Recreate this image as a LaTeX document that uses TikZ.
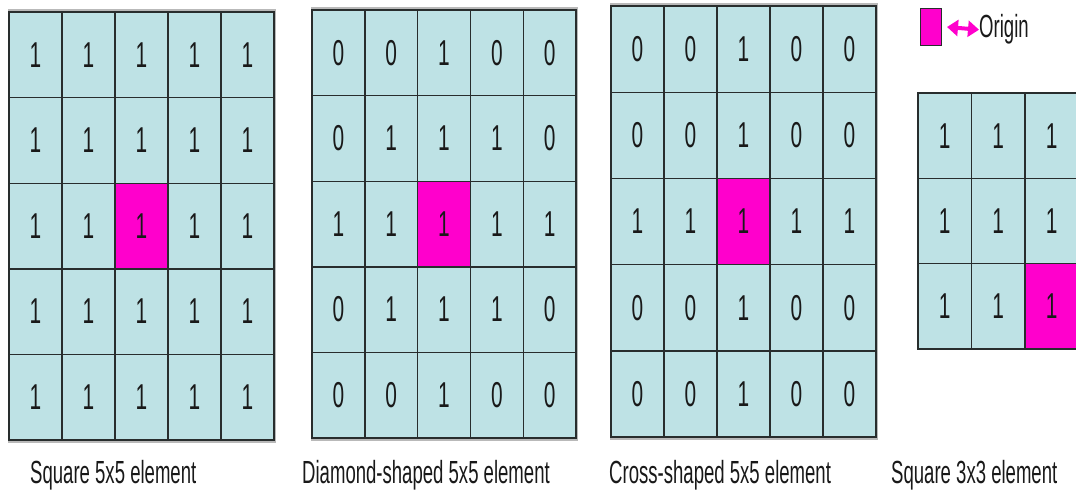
\documentclass[tikz,border=0pt]{standalone}
\usepackage{fontspec}
\setmainfont{Liberation Sans}
\usetikzlibrary{arrows.meta}
\definecolor{cellfill}{RGB}{190,226,229}
\definecolor{originfill}{RGB}{255,0,204}
\definecolor{gridline}{RGB}{40,45,45}
\definecolor{txt}{RGB}{25,25,25}

% one structuring element: name, left, top, cell width, cell height,
% origin row, origin column, rows of values
\newcommand\kgrid[8]{%
  \draw[gray!55, line width=3pt] (#2,#3-1) rectangle ({#2+5*#4},{#3+5*#5+1});
  \foreach \row [count=\r from 0] in {#8} {
    \foreach \v [count=\c from 0] in \row {
      \pgfmathtruncatemacro\isorig{and(\r==#6,\c==#7)}
      \ifnum\isorig=1
        \node[origincell, minimum width=#4, minimum height=#5] (#1-\r-\c)
          at ({#2+#4*(\c+0.5)},{#3+#5*(\r+0.5)}) {\digit{\v}};
      \else
        \node[cell, minimum width=#4, minimum height=#5] (#1-\r-\c)
          at ({#2+#4*(\c+0.5)},{#3+#5*(\r+0.5)}) {\digit{\v}};
      \fi
    }
  }
}
\newcommand\digit[1]{\scalebox{0.58}[1]{#1}}
\newcommand\narrow[1]{\scalebox{0.58}[1]{#1}}

\begin{document}
\begin{tikzpicture}[x=1pt,y=-1pt,
  cell/.style={rectangle, draw=gridline, line width=1.4pt, fill=cellfill,
    inner sep=0pt, text=txt, font=\fontsize{36}{36}\selectfont},
  origincell/.style={cell, fill=originfill},
  caption/.style={anchor=base west, inner sep=0pt, text=txt,
    font=\fontsize{32}{32}\selectfont},
  legendbox/.style={rectangle, draw=gridline, line width=0.8pt, fill=originfill,
    minimum width=21, minimum height=37, inner sep=0pt},
  legendarrow/.style={originfill, line width=4pt,
    {Triangle[length=11pt,width=16pt]}-{Triangle[length=11pt,width=16pt]}}]
\useasboundingbox (0,0) rectangle (1076,495);

% square 5x5
\kgrid{sq}{9}{12}{53}{85.6}{2}{2}{{1,1,1,1,1},{1,1,1,1,1},{1,1,1,1,1},{1,1,1,1,1},{1,1,1,1,1}}
% diamond 5x5
\kgrid{di}{312}{10}{52.8}{85.6}{2}{2}{{0,0,1,0,0},{0,1,1,1,0},{1,1,1,1,1},{0,1,1,1,0},{0,0,1,0,0}}
% cross 5x5
\kgrid{cr}{611}{6}{53}{86.2}{2}{2}{{0,0,1,0,0},{0,0,1,0,0},{1,1,1,1,1},{0,0,1,0,0},{0,0,1,0,0}}
% square 3x3 (origin in the corner)
\foreach \row [count=\r from 0] in {{1,1,1},{1,1,1},{1,1,1}} {
  \foreach \v [count=\c from 0] in \row {
    \pgfmathtruncatemacro\isorig{and(\r==2,\c==2)}
    \ifnum\isorig=1
      \node[origincell, minimum width=53.5, minimum height=85.3] (s3-\r-\c)
        at ({918+53.5*(\c+0.5)},{93+85.3*(\r+0.5)}) {\digit{\v}};
    \else
      \node[cell, minimum width=53.5, minimum height=85.3] (s3-\r-\c)
        at ({918+53.5*(\c+0.5)},{93+85.3*(\r+0.5)}) {\digit{\v}};
    \fi
  }
}

% captions
\node[caption] (cap-sq) at (30,483) {\narrow{Square 5x5 element}};
\node[caption] (cap-di) at (302,483) {\narrow{Diamond-shaped 5x5 element}};
\node[caption] (cap-cr) at (609,483) {\narrow{Cross-shaped 5x5 element}};
\node[caption] (cap-s3) at (891,483) {\narrow{Square 3x3 element}};

% legend
\node[legendbox] (leg-box) at (930.5,26.5) {};
\coordinate (leg-a) at (947,27);
\node[caption, anchor=base west] (leg-txt) at (979,38) {\narrow{Origin}};
\draw[legendarrow] (leg-a) -- (leg-txt.west);
\end{tikzpicture}
\end{document}
